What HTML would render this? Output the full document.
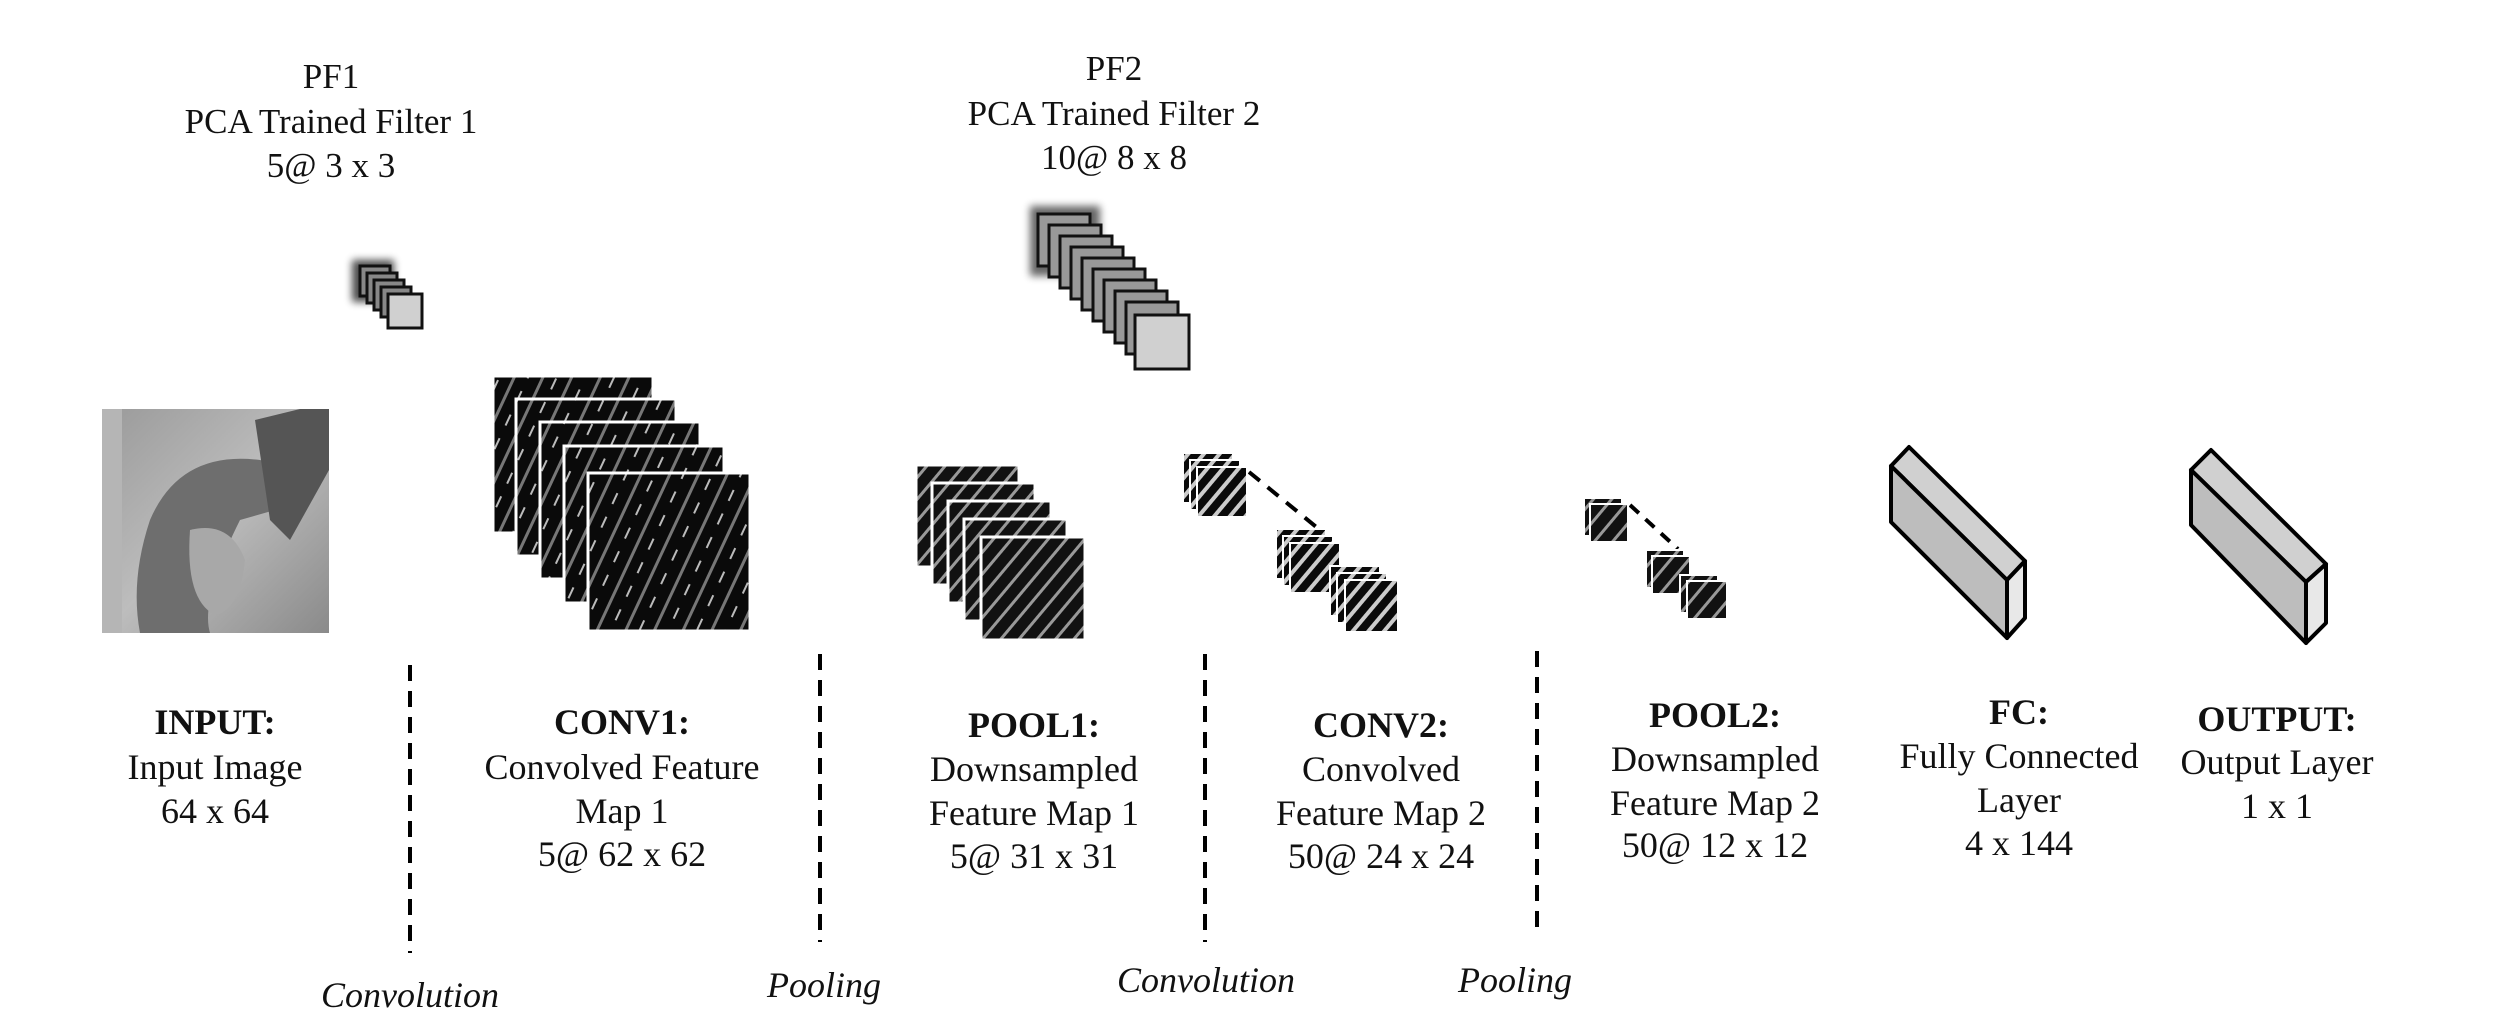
<!DOCTYPE html>
<html><head><meta charset="utf-8"><style>
html,body{margin:0;padding:0;background:#fff;}
svg{display:block;}
text{font-family:"Liberation Serif",serif;fill:#111;}
</style></head><body>
<svg width="2520" height="1026" viewBox="0 0 2520 1026" xmlns="http://www.w3.org/2000/svg">
<defs>
<pattern id="s1" width="26" height="26" patternUnits="userSpaceOnUse" patternTransform="rotate(25)">
<rect width="26" height="26" fill="#0a0a0a"/>
<rect x="0" y="0" width="3" height="26" fill="#777"/>
<rect x="13" y="4" width="2" height="12" fill="#bbb"/>
</pattern>
<pattern id="s2" width="14" height="14" patternUnits="userSpaceOnUse" patternTransform="rotate(40)">
<rect width="14" height="14" fill="#111"/>
<rect x="0" y="0" width="3" height="14" fill="#999"/>
</pattern>
<pattern id="s3" width="12" height="12" patternUnits="userSpaceOnUse" patternTransform="rotate(40)">
<rect width="12" height="12" fill="#0a0a0a"/>
<rect x="0" y="0" width="4" height="12" fill="#ccc"/>
</pattern>
<linearGradient id="lena" x1="0" y1="0" x2="1" y2="1">
<stop offset="0" stop-color="#9a9a9a"/><stop offset="0.5" stop-color="#bdbdbd"/><stop offset="1" stop-color="#8a8a8a"/>
</linearGradient>
<filter id="sh" x="-30%" y="-30%" width="160%" height="160%"><feGaussianBlur stdDeviation="4"/></filter>
</defs>

<g font-size="35" text-anchor="middle">
<text x="331" y="88">PF1</text>
<text x="331" y="133">PCA Trained Filter 1</text>
<text x="331" y="177">5@ 3 x 3</text>
<text x="1114" y="80">PF2</text>
<text x="1114" y="125">PCA Trained Filter 2</text>
<text x="1114" y="169">10@ 8 x 8</text>
</g>

<rect x="352" y="260" width="42" height="42" fill="#000" filter="url(#sh)" opacity="0.7"/>
<g stroke="#111" stroke-width="3" fill="#888">
<rect x="360" y="266" width="30" height="30"/>
<rect x="367" y="273" width="30" height="30"/>
<rect x="374" y="280" width="30" height="30"/>
<rect x="381" y="287" width="30" height="30"/>
<rect x="388" y="294" width="34" height="34" fill="#d0d0d0"/>
</g>

<rect x="1030" y="206" width="70" height="70" fill="#000" filter="url(#sh)" opacity="0.6"/>
<g stroke="#111" stroke-width="3" fill="#999">
<rect x="1038" y="214" width="52" height="52"/>
<rect x="1049" y="225" width="52" height="52"/>
<rect x="1060" y="236" width="52" height="52"/>
<rect x="1071" y="247" width="52" height="52"/>
<rect x="1082" y="258" width="52" height="52"/>
<rect x="1093" y="269" width="52" height="52"/>
<rect x="1104" y="280" width="52" height="52"/>
<rect x="1115" y="291" width="52" height="52"/>
<rect x="1126" y="302" width="52" height="52"/>
<rect x="1135" y="315" width="54" height="54" fill="#d0d0d0"/>
</g>

<rect x="102" y="409" width="227" height="224" fill="url(#lena)"/>
<path d="M150 520 Q180 450 260 460 Q300 470 310 500 L240 520 Q200 600 210 633 L140 633 Q130 580 150 520Z" fill="#6e6e6e"/>
<path d="M255 420 L300 409 L329 409 L329 470 L290 540 L270 520Z" fill="#555"/>
<path d="M190 530 Q230 520 245 560 Q240 610 215 615 Q185 600 190 530Z" fill="#a8a8a8"/>
<rect x="102" y="409" width="20" height="224" fill="#b5b5b5"/>

<g stroke="#fff" stroke-width="3">
<rect x="493" y="376" width="160" height="157" fill="url(#s1)"/>
<rect x="516" y="399" width="160" height="157" fill="url(#s1)"/>
<rect x="540" y="422" width="160" height="157" fill="url(#s1)"/>
<rect x="564" y="446" width="160" height="157" fill="url(#s1)"/>
<rect x="588" y="473" width="162" height="158" fill="url(#s1)"/>
</g>

<g stroke="#fff" stroke-width="3">
<rect x="916" y="465" width="103" height="102" fill="url(#s2)"/>
<rect x="932" y="483" width="103" height="102" fill="url(#s2)"/>
<rect x="948" y="501" width="103" height="102" fill="url(#s2)"/>
<rect x="964" y="519" width="103" height="102" fill="url(#s2)"/>
<rect x="981" y="537" width="104" height="103" fill="url(#s2)"/>
</g>

<line x1="1249" y1="472" x2="1320" y2="530" stroke="#000" stroke-width="4" stroke-dasharray="14,10"/>
<g stroke="#fff" stroke-width="2">
<rect x="1183" y="453" width="50" height="50" fill="url(#s3)"/>
<rect x="1190" y="460" width="50" height="50" fill="url(#s3)"/>
<rect x="1197" y="467" width="50" height="50" fill="url(#s3)"/>
<rect x="1276" y="529" width="50" height="50" fill="url(#s3)"/>
<rect x="1283" y="536" width="50" height="50" fill="url(#s3)"/>
<rect x="1290" y="543" width="50" height="50" fill="url(#s3)"/>
<rect x="1330" y="566" width="50" height="50" fill="url(#s3)"/>
<rect x="1337" y="573" width="50" height="50" fill="url(#s3)"/>
<rect x="1345" y="580" width="53" height="52" fill="url(#s3)"/>
</g>

<line x1="1630" y1="505" x2="1678" y2="549" stroke="#000" stroke-width="4" stroke-dasharray="12,9"/>
<g stroke="#fff" stroke-width="2">
<rect x="1584" y="498" width="38" height="38" fill="url(#s2)"/>
<rect x="1590" y="504" width="38" height="38" fill="url(#s2)"/>
<rect x="1646" y="550" width="38" height="38" fill="url(#s2)"/>
<rect x="1652" y="556" width="38" height="38" fill="url(#s2)"/>
<rect x="1680" y="575" width="38" height="38" fill="url(#s2)"/>
<rect x="1687" y="581" width="40" height="38" fill="url(#s2)"/>
</g>

<g stroke="#000" stroke-width="4" stroke-linejoin="round">
<polygon points="1909,447 2025,561 2007,580 1891,466" fill="#d0d0d0"/>
<polygon points="1891,466 2007,580 2007,638 1891,522" fill="#bdbdbd"/>
<polygon points="2007,580 2025,561 2025,618 2007,638" fill="#e8e8e8"/>
</g>
<g stroke="#000" stroke-width="4" stroke-linejoin="round">
<polygon points="2211,450 2326,564 2306,582 2191,470" fill="#d0d0d0"/>
<polygon points="2191,470 2306,582 2306,643 2191,525" fill="#bdbdbd"/>
<polygon points="2306,582 2326,564 2326,623 2306,643" fill="#e8e8e8"/>
</g>

<g stroke="#000" stroke-width="4" stroke-dasharray="16,10">
<line x1="410" y1="665" x2="410" y2="953"/>
<line x1="820" y1="654" x2="820" y2="942"/>
<line x1="1205" y1="654" x2="1205" y2="942"/>
<line x1="1537" y1="651" x2="1537" y2="937"/>
</g>

<g font-size="36" text-anchor="middle">
<text x="215" y="734" font-weight="bold">INPUT:</text>
<text x="215" y="779">Input Image</text>
<text x="215" y="823">64 x 64</text>

<text x="622" y="734" font-weight="bold">CONV1:</text>
<text x="622" y="779">Convolved Feature</text>
<text x="622" y="823">Map 1</text>
<text x="622" y="866">5@ 62 x 62</text>

<text x="1034" y="737" font-weight="bold">POOL1:</text>
<text x="1034" y="781">Downsampled</text>
<text x="1034" y="825">Feature Map 1</text>
<text x="1034" y="868">5@ 31 x 31</text>

<text x="1381" y="737" font-weight="bold">CONV2:</text>
<text x="1381" y="781">Convolved</text>
<text x="1381" y="825">Feature Map 2</text>
<text x="1381" y="868">50@ 24 x 24</text>

<text x="1715" y="727" font-weight="bold">POOL2:</text>
<text x="1715" y="771">Downsampled</text>
<text x="1715" y="815">Feature Map 2</text>
<text x="1715" y="857">50@ 12 x 12</text>

<text x="2019" y="724" font-weight="bold">FC:</text>
<text x="2019" y="768">Fully Connected</text>
<text x="2019" y="812">Layer</text>
<text x="2019" y="855">4 x 144</text>

<text x="2277" y="731" font-weight="bold">OUTPUT:</text>
<text x="2277" y="774">Output Layer</text>
<text x="2277" y="818">1 x 1</text>
</g>

<g font-size="36" font-style="italic" text-anchor="middle">
<text x="410" y="1007">Convolution</text>
<text x="824" y="997">Pooling</text>
<text x="1206" y="992">Convolution</text>
<text x="1515" y="992">Pooling</text>
</g>
</svg>
</body></html>
